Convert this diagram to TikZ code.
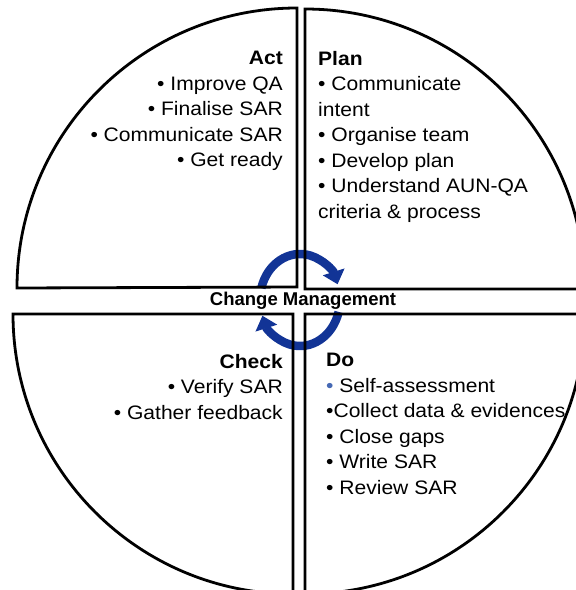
\documentclass[tikz,border=0pt]{standalone}
\usepackage{fontspec}
\setmainfont{Liberation Sans}[FakeStretch=1.08]
\newfontfamily\cmfont{Liberation Sans}
\usetikzlibrary{arrows.meta}
\definecolor{cycblue}{RGB}{18,52,150}
\definecolor{bulblue}{RGB}{70,105,180}
\begin{document}
\begin{tikzpicture}[x=1pt,y=-1pt,
  quad/.style={draw=black,line width=2.8pt,line join=miter},
  cyc/.style={draw=cycblue,line width=8.5pt,-{Triangle[width=22pt,length=13pt]}},
  txt/.style={inner sep=0pt,font=\fontsize{19.5}{25.5}\selectfont},
  title/.style={inner sep=0pt,font=\cmfont\bfseries\fontsize{18.5}{22}\selectfont}]
\useasboundingbox (0,0) rectangle (576,590);
\clip (0,0) rectangle (576,590);
% cycle arrows
\coordinate (cc) at (300,300);
\draw[cyc] ([shift={(-165:40 and 46)}]cc) arc[start angle=-165,end angle=-20,x radius=40,y radius=46];
\draw[cyc] ([shift={(15:40 and 46)}]cc) arc[start angle=15,end angle=160,x radius=40,y radius=46];
% quadrants
\draw[quad] (297,287) -- (297,8) arc[start angle=-90,end angle=-180,radius=280] -- cycle;
\draw[quad] (305,289) -- (305,9) arc[start angle=-90,end angle=0,radius=280] -- cycle;
\draw[quad] (293,314) -- (13,314) arc[start angle=180,end angle=90,radius=280] -- cycle;
\draw[quad] (305,314) -- (305,594) arc[start angle=90,end angle=0,radius=280] -- cycle;
% texts
\node[txt,anchor=north east,align=right] (act) at (283,51)
  {\textbf{Act}\\• Improve QA\\• Finalise SAR\\• Communicate SAR\\• Get ready};
\node[txt,anchor=north west,align=left] (plan) at (318,51)
  {\textbf{Plan}\\• Communicate\\intent\\• Organise team\\• Develop plan\\• Understand AUN-QA\\criteria \& process};
\node[txt,anchor=north east,align=right] (check) at (283,354)
  {\textbf{Check}\\• Verify SAR\\• Gather feedback};
\node[txt,anchor=north west,align=left] (do) at (326,353)
  {\textbf{Do}\\{\color{bulblue}•} Self-assessment\\•Collect data \& evidences\\• Close gaps\\• Write SAR\\• Review SAR};
\node[title,anchor=base] (cm) at (303,305) {Change Management};
\end{tikzpicture}
\end{document}
